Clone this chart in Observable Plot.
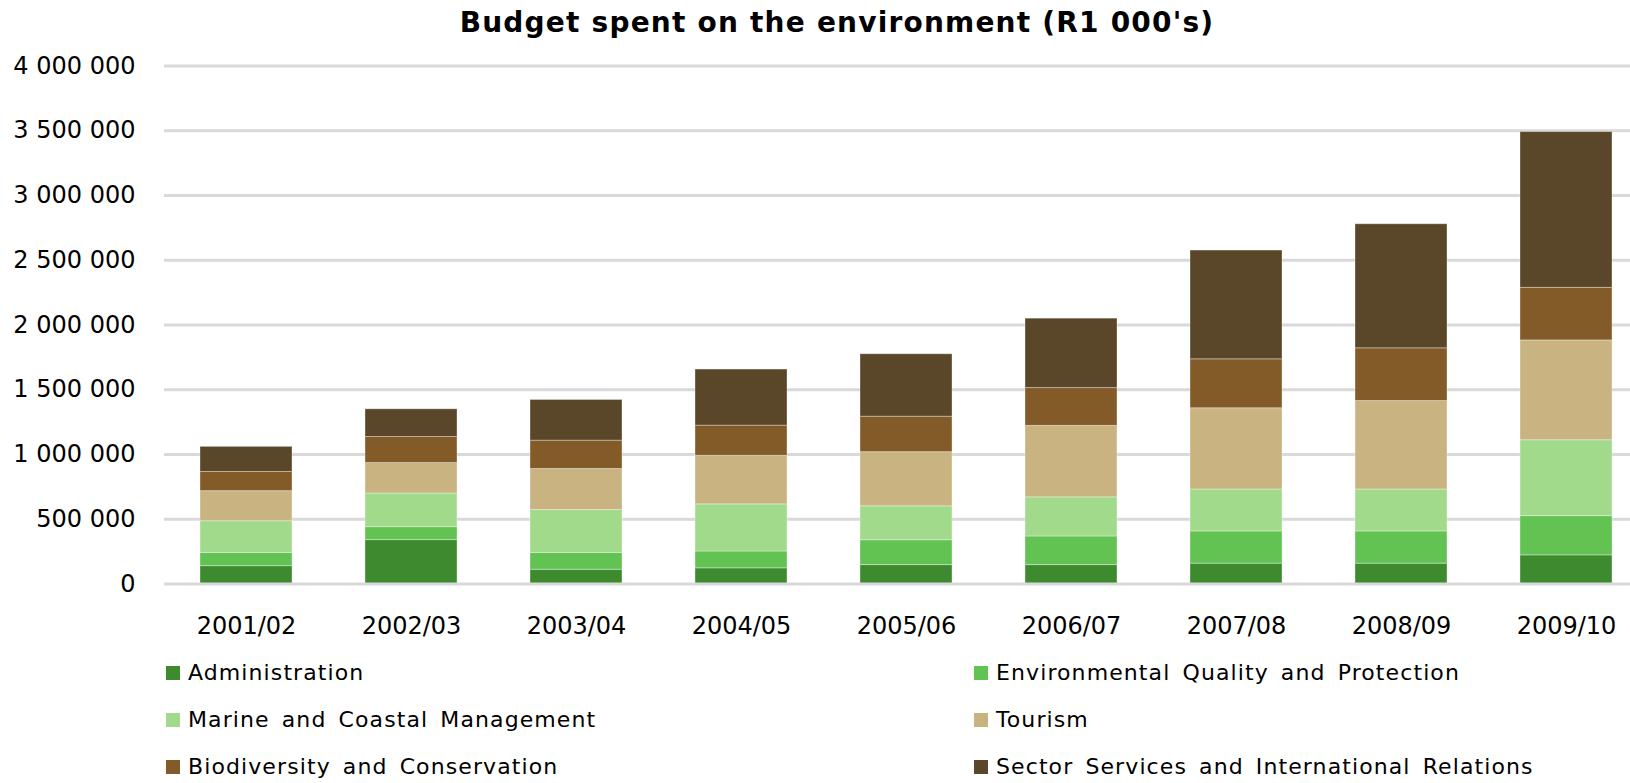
<!DOCTYPE html>
<html>
<head>
<meta charset="utf-8">
<script src="https://cdn.jsdelivr.net/npm/d3@7"></script>
<script src="https://cdn.jsdelivr.net/npm/@observablehq/plot@0.6"></script>
<style>
  html, body { margin: 0; padding: 0; background: #fff; overflow: hidden; }
  body { width: 1630px; height: 783px; position: relative; font-family: "DejaVu Sans", sans-serif; color: #000; }
  #title { position: absolute; top: 5px; left: 837px; transform: translateX(-50%); white-space: nowrap;
           font-weight: bold; font-size: 28px; letter-spacing: 1.2px; line-height: 36px; }
  #chart { position: absolute; top: 45px; left: 0; }
  #legend { position: absolute; top: 649px; left: 166px; display: grid; grid-template-columns: 808px auto; grid-auto-rows: 47px; }
  .item { display: flex; align-items: center; font-size: 22px; letter-spacing: 1.1px; word-spacing: 4px; white-space: nowrap; height: 47px; }
  .sw { width: 14px; height: 14px; margin-right: 8px; flex: none; }
</style>
</head>
<body>
<div id="title">Budget spent on the environment (R1 000's)</div>
<div id="chart"></div>
<div id="legend"></div>
<script>
// ---- data (R1 000's) ----
const years = ["2001/02", "2002/03", "2003/04", "2004/05", "2005/06", "2006/07", "2007/08", "2008/09", "2009/10"];
const seriesNames = [
  "Administration",
  "Environmental Quality and Protection",
  "Marine and Coastal Management",
  "Tourism",
  "Biodiversity and Conservation",
  "Sector Services and International Relations"
];
const administration       = [138000, 339000, 110000, 121000, 146000, 146000, 157000, 157000, 221000];
const environmentalQuality = [102000, 100000, 130000, 130000, 192000, 221000, 249000, 249000, 303000];
const marineCoastal        = [245000, 260000, 331000, 364000, 262000, 302000, 324000, 324000, 586000];
const tourism              = [232000, 235000, 317000, 375000, 418000, 552000, 627000, 683000, 771000];
const biodiversity         = [148000, 201000, 219000, 233000, 274000, 292000, 378000, 407000, 406000];
const sectorServices       = [194000, 214000, 314000, 433000, 482000, 536000, 840000, 958000, 1203000];
const yTicks = [0, 500000, 1000000, 1500000, 2000000, 2500000, 3000000, 3500000, 4000000];
const colors = ["#3d8a2f", "#62c252", "#a2da8b", "#c8b381", "#835b28", "#5a4628"];

const seriesValues = [administration, environmentalQuality, marineCoastal, tourism, biodiversity, sectorServices];
const data = years.flatMap((year, i) =>
  seriesNames.map((s, j) => ({ year, series: s, value: seriesValues[j][i] }))
);
const fmt = v => d3.format(",")(v).replace(/,/g, " ");

const plot = Plot.plot({
  width: 1630,
  height: 600,
  marginLeft: 164,
  marginRight: 0,
  marginTop: 20.5,
  marginBottom: 61.5,
  style: { fontFamily: "DejaVu Sans", fontSize: "24px", color: "#000", overflow: "hidden", background: "#fff" },
  x: { domain: years, range: [164, 1649], paddingInner: 0.44, paddingOuter: 0.22, label: null },
  y: { domain: [0, 4000000], label: null },
  color: { domain: seriesNames, range: colors },
  marks: [
    Plot.ruleY(yTicks.filter(d => d > 0), { stroke: "#d9d9d9", strokeWidth: 3 }),
    Plot.barY(data, { x: "year", y: "value", fill: "series", stroke: "#ffffff", strokeOpacity: 0.35, strokeWidth: 1 }),
    Plot.ruleY([0], { stroke: "#d9d9d9", strokeWidth: 3 }),
    Plot.axisY({ ticks: yTicks, tickSize: 0, tickPadding: 29, tickFormat: fmt, fontSize: 24, label: null }),
    Plot.axisX({ tickSize: 0, tickPadding: 33, fontSize: 24, label: null })
  ]
});
document.getElementById("chart").appendChild(plot);

const legend = document.getElementById("legend");
seriesNames.forEach((s, j) => {
  const item = document.createElement("div");
  item.className = "item";
  const sw = document.createElement("span");
  sw.className = "sw";
  sw.style.background = colors[j];
  const label = document.createElement("span");
  label.textContent = s;
  item.appendChild(sw);
  item.appendChild(label);
  legend.appendChild(item);
});
</script>
</body>
</html>
